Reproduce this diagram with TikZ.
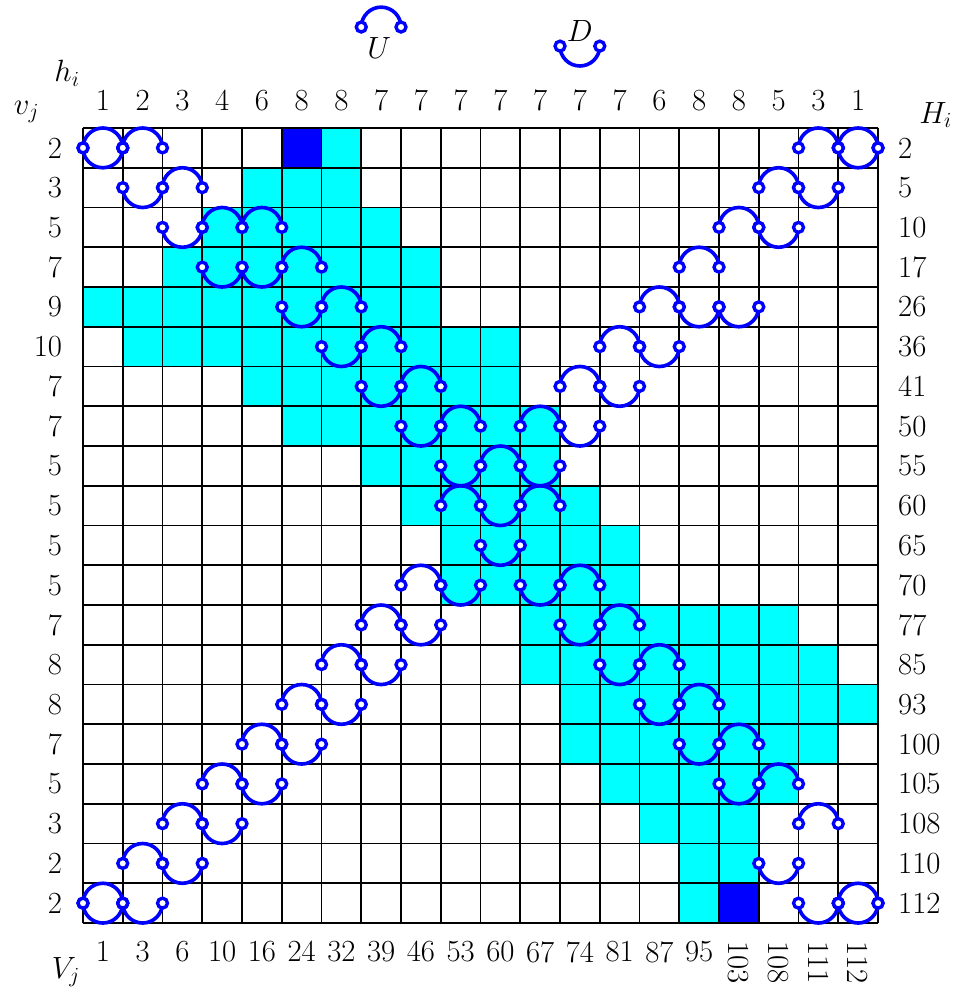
\RequirePackage{fix-cm}
\documentclass[tikz,border=0pt]{standalone}
\definecolor{cellcyan}{RGB}{0,255,255}
\definecolor{cellblue}{RGB}{0,0,255}
\begin{document}
\begin{tikzpicture}[
  every node/.style={font=\fontsize{22}{26}\selectfont, inner sep=0pt},
  gridline/.style={line width=1.3pt, black},
  arcline/.style={line width=2.6pt, cellblue},
  dotmark/.style={line width=2.4pt, cellblue, fill=white},
]
\useasboundingbox (-2.088,-21.836) rectangle (21.912,3.220);
% cyan cells: row/first/last
\foreach \r/\a/\b in {0/6/6,1/4/6,2/3/7,3/2/8,4/0/8,5/1/10,6/4/10,7/5/11,8/7/11,9/8/12,
  10/9/13,11/9/13,12/11/17,13/11/18,14/12/19,15/12/18,16/13/17,17/14/16,18/15/16,19/15/15}
  \fill[cellcyan] (\a,-\r-1) rectangle (\b+1,-\r);
\fill[cellblue] (5,-1) rectangle (6,0);
\fill[cellblue] (16,-20) rectangle (17,-19);
\draw[gridline] (0,-20) grid (20,0);
% U arcs
\foreach \r/\k in {0/0,0/1,0/18,0/19,1/2,1/17,2/3,2/4,2/16,3/5,3/15,4/6,4/14,5/7,5/13,
  6/8,6/12,7/9,7/11,8/10,9/9,9/11,11/8,11/12,12/7,12/13,13/6,13/14,14/5,14/15,
  15/4,15/16,16/3,16/17,17/2,17/18,18/1,19/0,19/19}
  \draw[arcline] (\k,-\r-0.5) arc[start angle=180,end angle=0,radius=0.5];
% D arcs
\foreach \r/\k in {0/0,0/19,1/1,1/18,2/2,2/17,3/3,3/4,4/5,4/15,4/16,5/6,5/14,6/7,6/13,
  7/8,7/12,8/9,8/11,9/10,10/10,11/9,11/11,12/8,12/12,13/7,13/13,14/6,14/14,15/5,15/15,
  16/4,16/16,17/3,18/2,18/17,19/0,19/1,19/18,19/19}
  \draw[arcline] (\k,-\r-0.5) arc[start angle=180,end angle=360,radius=0.5];
% end circles
\foreach \r/\k in {0/0,0/1,0/18,0/19,1/2,1/17,2/3,2/4,2/16,3/5,3/15,4/6,4/14,5/7,5/13,
  6/8,6/12,7/9,7/11,8/10,9/9,9/11,11/8,11/12,12/7,12/13,13/6,13/14,14/5,14/15,
  15/4,15/16,16/3,16/17,17/2,17/18,18/1,19/0,19/19,
  0/0,0/19,1/1,1/18,2/2,2/17,3/3,3/4,4/5,4/15,4/16,5/6,5/14,6/7,6/13,
  7/8,7/12,8/9,8/11,9/10,10/10,11/9,11/11,12/8,12/12,13/7,13/13,14/6,14/14,15/5,15/15,
  16/4,16/16,17/3,18/2,18/17,19/0,19/1,19/18,19/19}
  {\draw[dotmark] (\k,-\r-0.5) circle[radius=0.125];
   \draw[dotmark] (\k+1,-\r-0.5) circle[radius=0.125];}
% legend
\draw[arcline] (7,2.54) arc[start angle=180,end angle=0,radius=0.5];
\draw[dotmark] (7,2.54) circle[radius=0.125];
\draw[dotmark] (8,2.54) circle[radius=0.125];
\node (Ulab) at (7.45,2.0) {$U$};
\draw[arcline] (12,2.06) arc[start angle=180,end angle=360,radius=0.5];
\draw[dotmark] (12,2.06) circle[radius=0.125];
\draw[dotmark] (13,2.06) circle[radius=0.125];
\node (Dlab) at (12.5,2.44) {$D$};
% labels
\node (hlab) at (-0.40,1.38) {$h_i$};
\node (vlab) at (-1.42,0.40) {$v_j$};
\node (Hlab) at (21.45,0.33) {$H_i$};
\node (Vlab) at (-0.43,-21.23) {$V_j$};
\foreach \v [count=\i from 0] in {1,2,3,4,6,8,8,7,7,7,7,7,7,7,6,8,8,5,3,1}
  \node[anchor=base] (h\i) at (\i+0.5,0.43) {\v};
\foreach \v [count=\i from 0] in {2,3,5,7,9,10,7,7,5,5,5,5,7,8,8,7,5,3,2,2}
  \node[anchor=east] (v\i) at (-0.52,-\i-0.5) {\v};
\foreach \v [count=\i from 0] in {2,5,10,17,26,36,41,50,55,60,65,70,77,85,93,100,105,108,110,112}
  \node[anchor=west] (H\i) at (20.50,-\i-0.5) {\v};
\foreach \v [count=\i from 0] in {1,3,6,10,16,24,32,39,46,53,60,67,74,81,87,95}
  \node[anchor=north] (V\i) at (\i+0.5,-20.45) {\v};
\foreach \v [count=\i from 16] in {103,108,111,112}
  \node[anchor=west,rotate=-90] (V\i) at (\i+0.5,-20.45) {\v};
\end{tikzpicture}
\end{document}
